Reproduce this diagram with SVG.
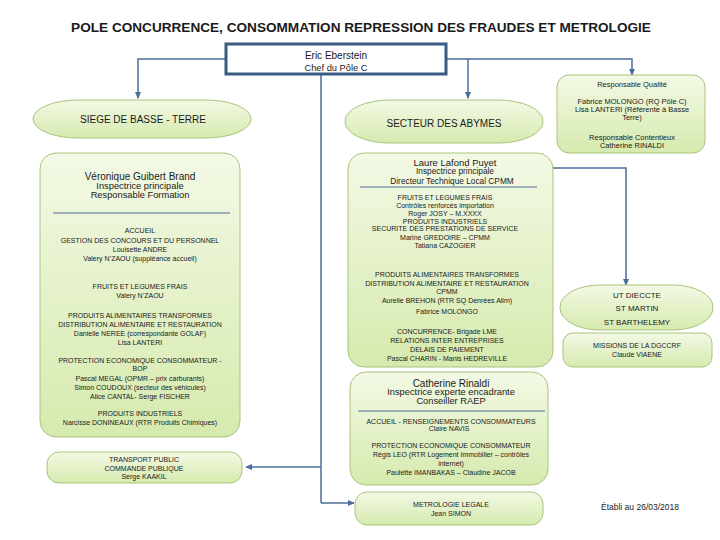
<svg xmlns="http://www.w3.org/2000/svg" width="720" height="540" viewBox="0 0 720 540">
<defs>
<linearGradient id="g" x1="0" y1="0" x2="0" y2="1">
<stop offset="0" stop-color="#f3f9e5"/>
<stop offset="1" stop-color="#d6eaae"/>
</linearGradient>
<marker id="arr" viewBox="0 0 8 8" refX="7" refY="4" markerWidth="7" markerHeight="7" markerUnits="userSpaceOnUse" orient="auto">
<path d="M0,0.5 L8,4 L0,7.5 Z" fill="#4a6e9a"/>
</marker>
</defs>
<style>
text{font-family:"Liberation Sans",Arial,sans-serif;fill:#1a1a1a;text-anchor:middle}
.box{fill:url(#g);stroke:#a8c47c;stroke-width:1}
.sep{stroke:#4f6f95;stroke-width:1}
.con{fill:none;stroke:#4a6e9a;stroke-width:1.5}
.t{font-size:13.6px;font-weight:bold}
.h{font-size:10px}
.s{font-size:9.3px}
.hl{font-size:9.5px}
.sl{font-size:8.3px}
.b{font-size:7px}
.q{font-size:7.5px}
.u{font-size:8px}
</style>
<rect width="720" height="540" fill="#ffffff"/>
<text class="t" x="361" y="31.5">POLE CONCURRENCE, CONSOMMATION REPRESSION DES FRAUDES ET METROLOGIE</text>

<g id="connectors">
<path class="con" d="M226 59 H138 V98" marker-end="url(#arr)"/>
<path class="con" d="M446 59 H632 V75" marker-end="url(#arr)"/>
<path class="con" d="M468 59 V98" marker-end="url(#arr)"/>
<path class="con" d="M321 75 V503"/>
<path class="con" d="M321 467 H246" marker-end="url(#arr)"/>
<path class="con" d="M321 503 H354" marker-end="url(#arr)"/>
<path class="con" d="M497 168 H626 V285" marker-end="url(#arr)"/>
</g>

<g id="chef">
<rect x="226" y="44" width="220" height="30" fill="#ffffff" stroke="#3b5b82" stroke-width="3"/>
<text class="h" x="336" y="58.5">Eric Eberstein</text>
<text class="s" x="336" y="70.5">Chef du Pôle C</text>
</g>

<g id="siege">
<rect class="box" x="33" y="100" width="218" height="38" rx="45" ry="19"/>
<text class="h" x="143" y="122.5">SIEGE DE BASSE - TERRE</text>
</g>

<g id="secteur">
<rect class="box" x="345" y="100" width="198" height="43" rx="45" ry="21"/>
<text class="h" x="444" y="126.5">SECTEUR DES ABYMES</text>
</g>

<g id="qualite">
<rect class="box" x="557" y="75" width="148" height="78" rx="12"/>
<text class="q" x="632" y="86.5">Responsable Qualité</text>
<text class="q" x="632" y="103.5">Fabrice MOLONGO (RQ Pôle C)</text>
<text class="q" x="632" y="111.5">Lisa LANTERI (Référente à Basse</text>
<text class="q" x="632" y="119.5">Terre)</text>
<text class="q" x="632" y="139.5">Responsable Contentieux</text>
<text class="q" x="632" y="147.5">Catherine RINALDI</text>
</g>

<g id="veronique">
<rect class="box" x="40" y="153" width="200" height="284" rx="16"/>
<text class="h" x="140" y="180">Véronique Guibert Brand</text>
<text class="s" x="140" y="189">Inspectrice principale</text>
<text class="s" x="140" y="198">Responsable Formation</text>
<line class="sep" x1="53" y1="213" x2="230" y2="213"/>
<text class="b" x="140" y="232.5">ACCUEIL</text>
<text class="b" x="140" y="242.5">GESTION DES CONCOURS ET DU PERSONNEL</text>
<text class="b" x="140" y="251.5">Louisette ANDRE</text>
<text class="b" x="140" y="260.5">Valery N’ZAOU (suppléance accueil)</text>
<text class="b" x="140" y="288.5">FRUITS ET LEGUMES FRAIS</text>
<text class="b" x="140" y="297.5">Valery N’ZAOU</text>
<text class="b" x="140" y="317.5">PRODUITS ALIMENTAIRES TRANSFORMES</text>
<text class="b" x="140" y="326.5">DISTRIBUTION ALIMENTAIRE ET RESTAURATION</text>
<text class="b" x="140" y="335.5">Danielle NEREE (correspondante GOLAF)</text>
<text class="b" x="140" y="344.5">Lisa LANTERI</text>
<text class="b" x="140" y="362.5">PROTECTION ECONOMIQUE CONSOMMATEUR -</text>
<text class="b" x="140" y="370.5">BOP</text>
<text class="b" x="140" y="380.5">Pascal MEGAL (OPMR – prix carburants)</text>
<text class="b" x="140" y="389.5">Simon COUDOUX (secteur des véhicules)</text>
<text class="b" x="140" y="398.5">Alice CANTAL- Serge FISCHER</text>
<text class="b" x="140" y="415.5">PRODUITS INDUSTRIELS</text>
<text class="b" x="140" y="424.5">Narcisse DONINEAUX (RTR Produits Chimiques)</text>
</g>

<g id="transport">
<rect class="box" x="47" y="452" width="195" height="31" rx="12"/>
<text class="b" x="144" y="461.5">TRANSPORT PUBLIC</text>
<text class="b" x="144" y="470.5">COMMANDE PUBLIQUE</text>
<text class="b" x="144" y="478.5">Serge KAAKIL</text>
</g>

<g id="laure">
<rect class="box" x="348" y="153" width="205" height="214" rx="16"/>
<text class="hl" x="455" y="165.5">Laure Lafond Puyet</text>
<text class="sl" x="455" y="174">Inspectrice principale</text>
<text class="sl" x="452" y="183.6">Directeur Technique Local CPMM</text>
<line class="sep" x1="360" y1="187" x2="537" y2="187"/>
<text class="b" x="445" y="199.5">FRUITS ET LEGUMES FRAIS</text>
<text class="b" x="445" y="207.5">Contrôles renforcés importation</text>
<text class="b" x="445" y="215.5">Roger JOSY – M.XXXX</text>
<text class="b" x="445" y="223.5">PRODUITS INDUSTRIELS</text>
<text class="b" x="445" y="231">SECURITE DES PRESTATIONS DE SERVICE</text>
<text class="b" x="445" y="239.5">Marine GREDOIRE – CPMM</text>
<text class="b" x="445" y="247.5">Tatiana CAZOGIER</text>
<text class="b" x="447" y="276.5">PRODUITS ALIMENTAIRES TRANSFORMES</text>
<text class="b" x="447" y="285.5">DISTRIBUTION ALIMENTAIRE ET RESTAURATION</text>
<text class="b" x="447" y="293.5">CPMM</text>
<text class="b" x="447" y="302.5">Aurelie BREHON (RTR SQ Denrées Alim)</text>
<text class="b" x="447" y="313.5">Fabrice MOLONGO</text>
<text class="b" x="447" y="333.5">CONCURRENCE- Brigade LME</text>
<text class="b" x="447" y="342.5">RELATIONS INTER ENTREPRISES</text>
<text class="b" x="447" y="351.5">DELAIS DE PAIEMENT</text>
<text class="b" x="447" y="360.5">Pascal CHARIN - Manis HEDREVILLE</text>
</g>

<g id="catherine">
<rect class="box" x="350" y="372" width="198" height="113" rx="16"/>
<text class="h" x="451" y="386.5">Catherine Rinaldi</text>
<text class="s" x="451" y="395">Inspectrice experte encadrante</text>
<text class="s" x="451" y="404">Conseiller RAEP</text>
<line class="sep" x1="358" y1="411" x2="545" y2="411"/>
<text class="b" x="451" y="423.5">ACCUEIL - RENSEIGNEMENTS CONSOMMATEURS</text>
<text class="b" x="449" y="430.5">Claire NAVIS</text>
<text class="b" x="451" y="447.5">PROTECTION ECONOMIQUE CONSOMMATEUR</text>
<text class="b" x="451" y="456.5">Régis LEO (RTR Logement Immobilier – contrôles</text>
<text class="b" x="451" y="465.5">internet)</text>
<text class="b" x="451" y="474.5">Paulette IMANBAKAS – Claudine JACOB</text>
</g>

<g id="metrologie">
<rect class="box" x="355" y="492" width="188" height="33" rx="12"/>
<text class="b" x="451" y="506.5">METROLOGIE LEGALE</text>
<text class="b" x="451" y="515.5">Jean SIMON</text>
</g>

<g id="ut">
<rect class="box" x="560" y="285" width="153" height="45" rx="40" ry="22"/>
<text class="u" x="637" y="298">UT DIECCTE</text>
<text class="u" x="637" y="311">ST MARTIN</text>
<text class="u" x="637" y="325">ST BARTHELEMY</text>
</g>

<g id="missions">
<rect class="box" x="563" y="333" width="149" height="34" rx="10"/>
<text class="b" x="637" y="347.5">MISSIONS DE LA DGCCRF</text>
<text class="b" x="637" y="356.5">Claude VIAENE</text>
</g>

<text x="640" y="510" style="font-size:8.5px">Établi au 26/03/2018</text>
</svg>
